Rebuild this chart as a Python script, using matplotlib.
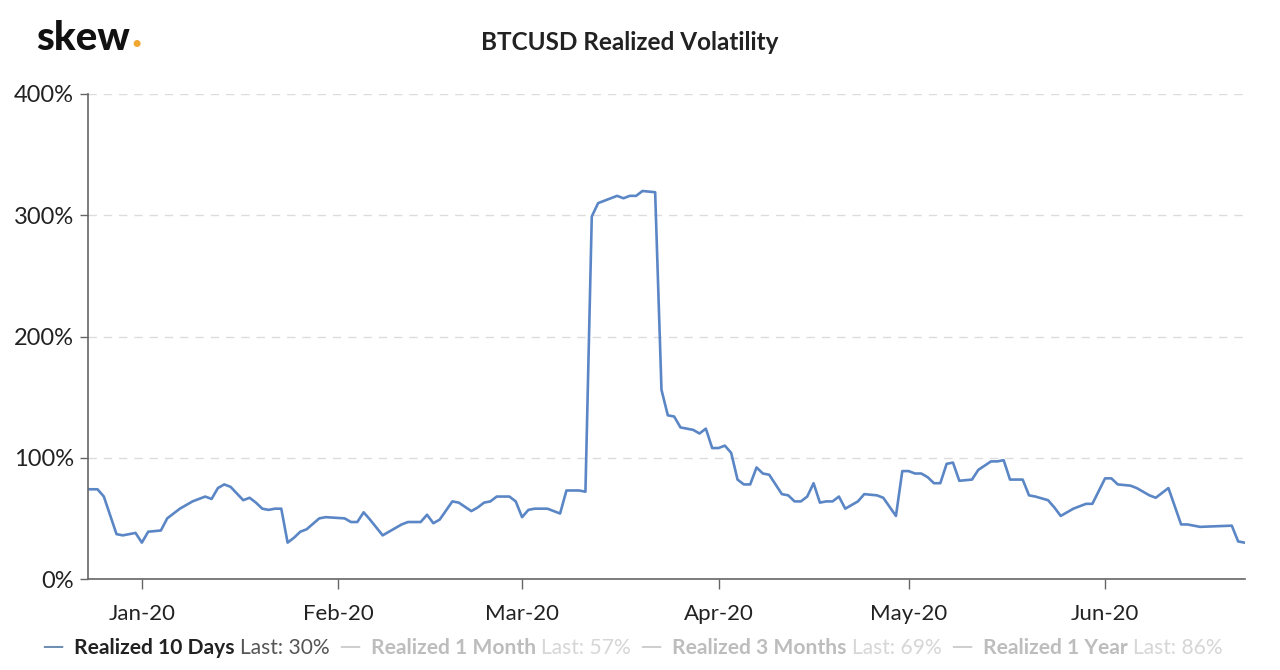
"""
BTCUSD realized volatility (skew. style chart)
"""

import matplotlib
matplotlib.use("Agg")
import matplotlib.pyplot as plt
import matplotlib.dates as mdates
import numpy as np

# --- data ------------------------------------------------------------------
dates = [
    "2019-12-23", "2019-12-25", "2019-12-26", "2019-12-28", "2019-12-29",
    "2019-12-31", "2020-01-01", "2020-01-02", "2020-01-04", "2020-01-05",
    "2020-01-07", "2020-01-09", "2020-01-11", "2020-01-12", "2020-01-13",
    "2020-01-14", "2020-01-15", "2020-01-17", "2020-01-18", "2020-01-19",
    "2020-01-20", "2020-01-21", "2020-01-22", "2020-01-23", "2020-01-24",
    "2020-01-25", "2020-01-26", "2020-01-27", "2020-01-29", "2020-01-30",
    "2020-02-02", "2020-02-03", "2020-02-04", "2020-02-05", "2020-02-06",
    "2020-02-08", "2020-02-09", "2020-02-11", "2020-02-12", "2020-02-14",
    "2020-02-15", "2020-02-16", "2020-02-17", "2020-02-19", "2020-02-20",
    "2020-02-22", "2020-02-23", "2020-02-24", "2020-02-25", "2020-02-26",
    "2020-02-27", "2020-02-28", "2020-02-29", "2020-03-01", "2020-03-02",
    "2020-03-03", "2020-03-04", "2020-03-05", "2020-03-07", "2020-03-08",
    "2020-03-10", "2020-03-11", "2020-03-12", "2020-03-13", "2020-03-14",
    "2020-03-16", "2020-03-17", "2020-03-18", "2020-03-19", "2020-03-20",
    "2020-03-22", "2020-03-23", "2020-03-24", "2020-03-25", "2020-03-26",
    "2020-03-28", "2020-03-29", "2020-03-30", "2020-03-31", "2020-04-01",
    "2020-04-02", "2020-04-03", "2020-04-04", "2020-04-05", "2020-04-06",
    "2020-04-07", "2020-04-08", "2020-04-09", "2020-04-11", "2020-04-12",
    "2020-04-13", "2020-04-14", "2020-04-15", "2020-04-16", "2020-04-17",
    "2020-04-18", "2020-04-19", "2020-04-20", "2020-04-21", "2020-04-23",
    "2020-04-24", "2020-04-26", "2020-04-27", "2020-04-29", "2020-04-30",
    "2020-05-01", "2020-05-02", "2020-05-03", "2020-05-04", "2020-05-05",
    "2020-05-06", "2020-05-07", "2020-05-08", "2020-05-09", "2020-05-11",
    "2020-05-12", "2020-05-14", "2020-05-15", "2020-05-16", "2020-05-17",
    "2020-05-19", "2020-05-20", "2020-05-21", "2020-05-23", "2020-05-24",
    "2020-05-25", "2020-05-27", "2020-05-28", "2020-05-29", "2020-05-30",
    "2020-06-01", "2020-06-02", "2020-06-03", "2020-06-05", "2020-06-06",
    "2020-06-08", "2020-06-09", "2020-06-11", "2020-06-13", "2020-06-14",
    "2020-06-16", "2020-06-21", "2020-06-22", "2020-06-23",
]
vol_10d = [
    74, 74, 68, 37, 36,
    38, 30, 39, 40, 50,
    58, 64, 68, 66, 75,
    78, 76, 65, 67, 63,
    58, 57, 58, 58, 30,
    34, 39, 41, 50, 51,
    50, 47, 47, 55, 49,
    36, 39, 45, 47, 47,
    53, 46, 49, 64, 63,
    56, 59, 63, 64, 68,
    68, 68, 64, 51, 57,
    58, 58, 58, 54, 73,
    73, 72, 299, 310, 312,
    316, 314, 316, 316, 320,
    319, 156, 135, 134, 125,
    123, 120, 124, 108, 108,
    110, 104, 82, 78, 78,
    92, 87, 86, 70, 69,
    64, 64, 68, 79, 63,
    64, 64, 68, 58, 64,
    70, 69, 67, 52, 89,
    89, 87, 87, 84, 79,
    79, 95, 96, 81, 82,
    90, 97, 97, 98, 82,
    82, 69, 68, 65, 59,
    52, 58, 60, 62, 62,
    83, 83, 78, 77, 75,
    69, 67, 75, 45, 45,
    43, 44, 31, 30,
]

month_ticks = ["2020-01-01", "2020-02-01", "2020-03-01",
               "2020-04-01", "2020-05-01", "2020-06-01"]
y_ticks = [0, 100, 200, 300, 400]

legend_names = ["Realized 10 Days", "Realized 1 Month",
                "Realized 3 Months", "Realized 1 Year"]
legend_last = ["30%", "57%", "69%", "86%"]

# --- style ------------------------------------------------------------------
plt.rcParams["font.family"] = ["Lato", "DejaVu Sans"]
LINE_COLOR = "#5b86c5"
TEXT_DARK = "#222222"

x = np.array(dates, dtype="datetime64[D]")
y = np.asarray(vol_10d)

fig = plt.figure(figsize=(12.8, 6.7), dpi=100)
ax = fig.add_axes([88 / 1280, 1 - 579 / 670, (1245 - 88) / 1280, (579 - 94) / 670])

ax.plot(x, y, color=LINE_COLOR, linewidth=1.9, solid_joinstyle="round")

ax.set_ylim(0, 400)
ax.set_xlim(np.datetime64("2019-12-23T12"), np.datetime64("2020-06-23T02"))

ax.set_yticks(y_ticks)
ax.set_yticklabels([f"{v}%" for v in y_ticks])
ax.set_xticks(np.array(month_ticks, dtype="datetime64[D]"))
ax.xaxis.set_major_formatter(mdates.DateFormatter("%b-%y"))

ax.grid(axis="y", color="#dcdcdc", linestyle=(0, (6, 5)), linewidth=1)
ax.set_axisbelow(True)

for side in ("top", "right"):
    ax.spines[side].set_visible(False)
for side in ("left", "bottom"):
    ax.spines[side].set_color("#666666")
    ax.spines[side].set_linewidth(1.2)

ax.tick_params(axis="y", length=6, width=1, color="#666666",
               labelsize=17, labelcolor=TEXT_DARK, pad=4)
ax.tick_params(axis="x", length=7, width=1, color="#666666",
               labelsize=16, labelcolor=TEXT_DARK, pad=11)

# title and logo
fig.text(630 / 1280, 1 - 42 / 670, "BTCUSD Realized Volatility",
         ha="center", va="center", fontsize=17.5, fontweight="bold", color=TEXT_DARK)
logo = fig.text(36 / 1280, 1 - 38 / 670, "skew", ha="left", va="center",
                fontsize=29, fontweight="black", color="#111111")
fig.canvas.draw()
bb = logo.get_window_extent()
fig.text(bb.x1 / 1280 + 0.001, bb.y0 / 670 + 0.004, ".", ha="left", va="bottom",
         fontsize=31, fontweight="black", color="#f0a830")

# legend drawn as a chained row of texts
name_cols = ["#222222", "#bdbdbd", "#bdbdbd", "#bdbdbd"]
last_cols = ["#555555", "#d6d6d6", "#d6d6d6", "#d6d6d6"]
mark_cols = ["#6f8fb5", "#cfcfcf", "#cfcfcf", "#cfcfcf"]
prev = None
for i, (name, last) in enumerate(zip(legend_names, legend_last)):
    if prev is None:
        mark = fig.text(41 / 1280, 1 - 648 / 670, "\u2014", ha="left", va="center",
                        fontsize=21, color=mark_cols[i])
    else:
        mark = ax.annotate("\u2014", xy=(1, 0.5), xycoords=prev, xytext=(6, 0),
                           textcoords="offset points", ha="left", va="center",
                           fontsize=21, color=mark_cols[i], annotation_clip=False)
    t1 = ax.annotate(name, xy=(1, 0.5), xycoords=mark, xytext=(7, 0),
                     textcoords="offset points", ha="left", va="center",
                     fontsize=15.1, fontweight="bold", color=name_cols[i],
                     annotation_clip=False)
    t2 = ax.annotate("Last: " + last, xy=(1, 0.5), xycoords=t1, xytext=(4, 0),
                     textcoords="offset points", ha="left", va="center",
                     fontsize=15.1, color=last_cols[i], annotation_clip=False)
    prev = t2

fig.savefig("out.png", dpi=100, facecolor="white")
